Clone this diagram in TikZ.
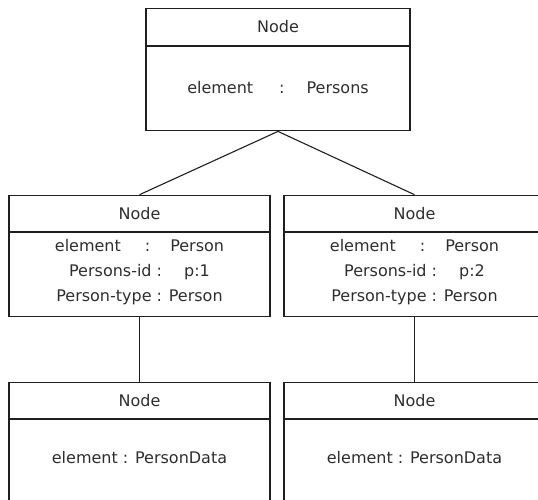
\documentclass[tikz,border=0pt]{standalone}
\usepackage{fontspec}
\setmainfont{DejaVu Sans}
\begin{document}
\begin{tikzpicture}[x=1pt,y=1pt,
  ink/.style={draw=black!88, line width=1.1pt},
  head/.style={ink, rectangle, inner sep=0pt, minimum width=#1, minimum height=36.5pt,
    font=\fontsize{16}{18}\selectfont, text=black!82},
  body/.style={ink, rectangle, inner sep=0pt, minimum width=#1, minimum height=84.5pt},
  words/.style={inner sep=0pt, align=center, font=\fontsize{16}{25}\selectfont, text=black!82},
  link/.style={ink}
]
\useasboundingbox (0,0) rectangle (538,499);
\clip (0,0) rectangle (538,499);

% root node
\node[head=264pt] (rootT) at (278,472) {Node};
\node[body=264pt, anchor=north] (rootB) at (rootT.south) {};
\node[words] (rootW) at ([yshift=1pt]rootB.center) {element\hspace{26pt}:\hspace{22pt}Persons};

% second level
\node[head=261pt] (lT) at (139.5,285.5) {Node};
\node[body=261pt, minimum height=84pt, anchor=north] (lB) at (lT.south) {};
\node[words] (lW) at ([yshift=3pt]lB.center)
  {element\hspace{24pt}:\hspace{20pt}Person\\
   Persons-id :\hspace{22pt}p:1\\
   Person-type : Person};
\node[head=261pt] (rT) at (414.5,285.5) {Node};
\node[body=261pt, minimum height=84pt, anchor=north] (rB) at (rT.south) {};
\node[words] (rW) at ([yshift=3pt]rB.center)
  {element\hspace{24pt}:\hspace{20pt}Person\\
   Persons-id :\hspace{22pt}p:2\\
   Person-type : Person};

% leaves
\node[head=261pt] (llT) at (139.5,98.5) {Node};
\node[body=261pt, anchor=north] (llB) at (llT.south) {};
\node[words] (llW) at (139.5,41) {element : PersonData};
\node[head=261pt] (rlT) at (414.5,98.5) {Node};
\node[body=261pt, anchor=north] (rlB) at (rlT.south) {};
\node[words] (rlW) at (414.5,41) {element : PersonData};

% connectors
\draw[link] (rootB.south) -- (lT.north);
\draw[link] (rootB.south) -- (rT.north);
\draw[link] (lB.south) -- (llT.north);
\draw[link] (rB.south) -- (rlT.north);
\end{tikzpicture}
\end{document}
